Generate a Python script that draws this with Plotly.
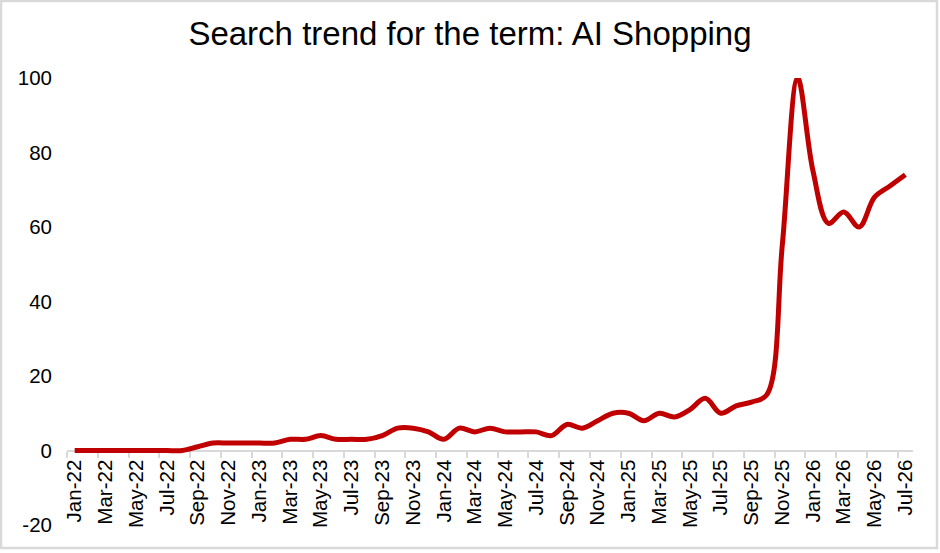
import pandas as pd
import plotly.graph_objects as go

# monthly search interest, Jan-22 .. Jul-26
months = pd.date_range("2022-01-01", "2026-07-01", freq="MS").strftime("%b-%y").tolist()
interest = [
    0, 0, 0, 0, 0, 0, 0, 0, 1, 2, 2, 2,        # 2022
    2, 2, 3, 3, 4, 3, 3, 3, 4, 6, 6, 5,        # 2023
    3, 6, 5, 6, 5, 5, 5, 4, 7, 6, 8, 10,       # 2024
    10, 8, 10, 9, 11, 14, 10, 12, 13, 15, 55, 100,  # 2025
    75, 61, 64, 60, 68, 71, 74,                # 2026
]
y_ticks = [-20, 0, 20, 40, 60, 80, 100]
y_labels = ["-20", "0", "20", "40", "60", "80", "100"]

W, H = 940, 553
ml, mr, mt, mb = 67, 27, 78, 28
pw, ph = W - ml - mr, H - mt - mb

idx = list(range(len(months)))
label_idx = idx[::2]

fig = go.Figure()
fig.add_trace(go.Scatter(
    x=idx, y=interest, mode="lines",
    line=dict(color="#C00000", width=5, shape="spline", smoothing=1.0),
    showlegend=False,
))

font = "Liberation Sans, Arial, Helvetica, sans-serif"

fig.update_layout(
    width=W, height=H,
    margin=dict(l=ml, r=mr, t=mt, b=mb),
    paper_bgcolor="white", plot_bgcolor="white",
    font=dict(family=font, color="black", size=20),
    title=dict(text="Search trend for the term: AI Shopping", x=0.5, xanchor="center",
               y=1 - 33 / H, yanchor="middle", font=dict(size=33, family=font, color="black")),
    xaxis=dict(
        range=[-0.5, len(months) - 0.5],
        anchor="free", position=20 / 120,
        showline=True, linecolor="#D9D9D9", linewidth=2, layer="below traces",
        showgrid=False, zeroline=False,
        tickmode="array", tickvals=label_idx, ticktext=[months[i] for i in label_idx],
        tickangle=-90, ticks="", tickfont=dict(size=20.5),
        minor=dict(tickmode="array", tickvals=[i - 0.5 for i in label_idx],
                   ticks="outside", ticklen=6, tickwidth=1.5, tickcolor="#D9D9D9",
                   showgrid=False),
    ),
    yaxis=dict(
        range=[-20, 100], tickmode="array", tickvals=y_ticks, ticktext=y_labels,
        showline=False, showgrid=False, zeroline=False, ticks="",
        tickfont=dict(size=20.5), ticklabelstandoff=14,
    ),
)

# light grey frame round the whole chart (pixel box converted to paper coords)
def px_x(p):
    return (p - ml) / pw

def px_y(p):
    return (H - mb - p) / ph

fig.add_shape(type="rect", xref="paper", yref="paper",
              x0=px_x(1), x1=px_x(937), y0=px_y(548), y1=px_y(1),
              line=dict(color="#D9D9D9", width=2.5), layer="below")

fig.write_html("out.html", config={"displayModeBar": False},
               post_script="document.body.style.margin='0';")
